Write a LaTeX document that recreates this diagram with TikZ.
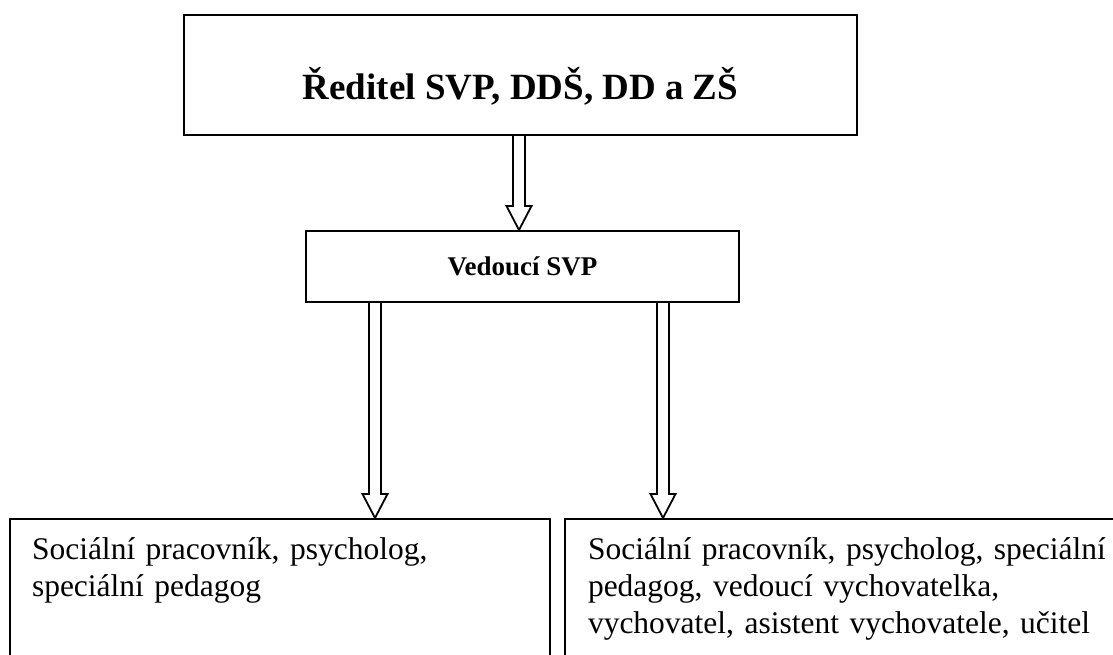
\documentclass[tikz,border=0pt]{standalone}
\usepackage{fontspec}
\setmainfont{Liberation Serif}
\usepackage{tikz}
\usetikzlibrary{positioning,calc}

\tikzset{
  orgbox/.style={draw=black, line width=2pt, rectangle, inner sep=0pt},
  staffbox/.style={orgbox, anchor=north west, align=left, inner ysep=0pt,
    text height=40pt, text depth=200pt, font=\fontsize{31.5}{37}\selectfont},
  blockarrow/.style={draw=black, line width=1.8pt, line join=miter},
}
% hollow block arrow: x position, start anchor, tip anchor
\newcommand{\hollowarrow}[3]{%
  \draw[blockarrow] let \p1=(#2), \p2=(#3) in
    (#1pt-6pt,\y1) -- (#1pt-6pt,\y2+24pt) -- (#1pt-12.5pt,\y2+24pt) -- (#1pt,\y2)
    -- (#1pt+12.5pt,\y2+24pt) -- (#1pt+6pt,\y2+24pt) -- (#1pt+6pt,\y1);
}

\begin{document}
\begin{tikzpicture}[x=1pt,y=1pt]
      \clip (0,0) rectangle (1113,-655);

      % Director
      \node[orgbox, anchor=north, minimum width=673pt, text height=85pt, text depth=35pt,
        font=\fontsize{37}{42}\selectfont\bfseries] (reditel) at (520.5,-14)
        {Ředitel SVP, DDŠ, DD a ZŠ};

      % Head of SVP
      \node[orgbox, minimum width=433pt, minimum height=71pt,
        font=\fontsize{27}{31}\selectfont\bfseries] (vedouci) at (522.5,-266.5)
        {Vedoucí SVP};

      % Staff
      \node[staffbox, inner xsep=22pt, text width=496pt] (odbornici) at (9,-518)
        {Sociální pracovník, psycholog,\\speciální pedagog};
      \node[staffbox, inner xsep=23pt, text width=540pt] (tym) at (564,-518)
        {Sociální pracovník, psycholog, speciální\\pedagog, vedoucí vychovatelka,\\vychovatel, asistent vychovatele, učitel};

      % Arrows
      \hollowarrow{519}{reditel.south}{vedouci.north}
      \hollowarrow{375}{vedouci.south}{odbornici.north}
      \hollowarrow{663}{vedouci.south}{tym.north}
    \end{tikzpicture}
\end{document}
